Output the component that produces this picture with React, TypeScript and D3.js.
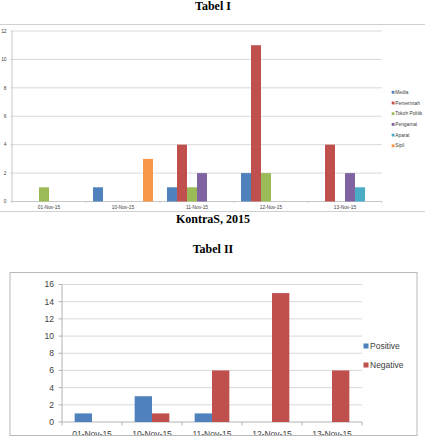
import React from "react";
import * as d3 from "d3";

// Tabel I: mentions per actor group per day
const dates = ["01-Nov-15", "10-Nov-15", "11-Nov-15", "12-Nov-15", "13-Nov-15"];
const actorSeries = ["Media", "Pemerintah", "Tokoh Politik", "Pengamat", "Aparat", "Sipil"];
const actorColors = ["#4F81BD", "#C0504D", "#9BBB59", "#8064A2", "#4BACC6", "#F79646"];
const media = [0, 1, 1, 2, 0];
const pemerintah = [0, 0, 4, 11, 4];
const tokohPolitik = [1, 0, 1, 2, 0];
const pengamat = [0, 0, 2, 0, 2];
const aparat = [0, 0, 0, 0, 1];
const sipil = [0, 3, 0, 0, 0];
const actorTicks = [0, 2, 4, 6, 8, 10, 12];

// Tabel II: sentiment per day
const sentimentSeries = ["Positive", "Negative"];
const sentimentColors = ["#4F81BD", "#C0504D"];
const positive = [1, 3, 1, 0, 0];
const negative = [0, 1, 6, 15, 6];
const sentimentTicks = [0, 2, 4, 6, 8, 10, 12, 14, 16];

const actorValues = [media, pemerintah, tokohPolitik, pengamat, aparat, sipil];
const sentimentValues = [positive, negative];

const SANS = "'Liberation Sans', Arial, sans-serif";
const SERIF = "'Liberation Serif', 'Times New Roman', serif";

function GroupedBars(props: {
  x0: number; x1: number; yTop: number; yBottom: number;
  maxY: number; ticks: number[];
  series: string[]; colors: string[]; values: number[][];
  groupPad: number; font: number; gridColor: string; axisColor: string;
  labelDy: number; tickLabelX: number; tickLen: number;
}) {
  const { x0, x1, yTop, yBottom, maxY, ticks, series, colors, values, groupPad, font, gridColor, axisColor, labelDy, tickLabelX, tickLen } = props;
  const x = d3.scaleBand<string>().domain(dates).range([x0, x1]).paddingInner(0).paddingOuter(0);
  const y = d3.scaleLinear().domain([0, maxY]).range([yBottom, yTop]);
  const inner = d3.scaleBand<string>().domain(series).range([0, x.bandwidth()]).paddingOuter(groupPad).paddingInner(0);
  const bounds = dates.map((d) => x(d)!).concat([x1]);
  return (
    <g>
      {ticks.map((t) => (
        <g key={t}>
          <line x1={x0} x2={x1} y1={y(t)} y2={y(t)} stroke={t === 0 ? axisColor : gridColor} strokeWidth={1} />
          <line x1={x0 - tickLen} x2={x0} y1={y(t)} y2={y(t)} stroke={axisColor} strokeWidth={1} />
          <text x={tickLabelX} y={y(t)} dy="0.35em" textAnchor="end" fontSize={font} fontFamily={SANS} fill="#404040">{t}</text>
        </g>
      ))}
      <line x1={x0} x2={x0} y1={yTop} y2={yBottom} stroke={axisColor} strokeWidth={1} />
      {bounds.map((b, i) => (
        <line key={i} x1={b} x2={b} y1={yBottom} y2={yBottom + tickLen} stroke={axisColor} strokeWidth={1} />
      ))}
      {dates.map((d, di) => (
        <g key={d}>
          {series.map((s, si) => {
            const v = values[si][di];
            if (!v) return null;
            return (
              <rect key={s} x={x(d)! + inner(s)!} width={inner.bandwidth()} y={y(v)} height={y(0) - y(v)} fill={colors[si]} />
            );
          })}
          <text x={x(d)! + x.bandwidth() / 2} y={yBottom + labelDy} textAnchor="middle" fontSize={font} fontFamily={SANS} fill="#404040">{d}</text>
        </g>
      ))}
    </g>
  );
}

export default function App() {
  return (
    <svg width={425} height={440} style={{ position: "absolute", left: 0, top: 0, background: "#fff" }}>
      <rect x={0} y={0} width={425} height={440} fill="#fff" />
      <text x={213} y={9.5} textAnchor="middle" fontFamily={SERIF} fontWeight="bold" fontSize={12} fill="#000">Tabel I</text>

      {/* Chart frame, Tabel I */}
      <rect x={-1} y={24.5} width={428} height={187} fill="none" stroke="#d0d0d0" strokeWidth={1} />
      <GroupedBars
        x0={12} x1={382} yTop={31} yBottom={201.5} maxY={12} ticks={actorTicks}
        series={actorSeries} colors={actorColors} values={actorValues}
        groupPad={0.7} font={4.8} gridColor="#d9d9d9" axisColor="#c8c8c8"
        labelDy={7.5} tickLabelX={6.5} tickLen={1.5}
      />
      {actorSeries.map((s, i) => (
        <g key={s}>
          <rect x={391.7} y={92.3 + i * 10.7 - 1.4} width={2.8} height={2.8} fill={actorColors[i]} />
          <text x={395.3} y={92.3 + i * 10.7} dy="0.35em" fontSize={4.8} fontFamily={SANS} fill="#404040">{s}</text>
        </g>
      ))}

      <text x={213} y={223.3} textAnchor="middle" fontFamily={SERIF} fontWeight="bold" fontSize={12} fill="#000">KontraS, 2015</text>
      <text x={213} y={253.3} textAnchor="middle" fontFamily={SERIF} fontWeight="bold" fontSize={12} fill="#000">Tabel II</text>

      {/* Chart frame, Tabel II */}
      <defs>
        <clipPath id="frame2">
          <rect x={10} y={272.5} width={407} height={163} />
        </clipPath>
      </defs>
      <g clipPath="url(#frame2)">
        <GroupedBars
          x0={62} x1={362} yTop={284.5} yBottom={422} maxY={16} ticks={sentimentTicks}
          series={sentimentSeries} colors={sentimentColors} values={sentimentValues}
          groupPad={0.73} font={8.5} gridColor="#d9d9d9" axisColor="#b3b3b3"
          labelDy={14.5} tickLabelX={54} tickLen={3.5}
        />
      </g>
      <rect x={10} y={272.5} width={407} height={163} fill="none" stroke="#b8b8b8" strokeWidth={1} />
      {sentimentSeries.map((s, i) => (
        <g key={s}>
          <rect x={363.5} y={346 + i * 19 - 2.5} width={5} height={5} fill={sentimentColors[i]} />
          <text x={370} y={346 + i * 19} dy="0.35em" fontSize={8.5} fontFamily={SANS} fill="#404040">{s}</text>
        </g>
      ))}
    </svg>
  );
}
